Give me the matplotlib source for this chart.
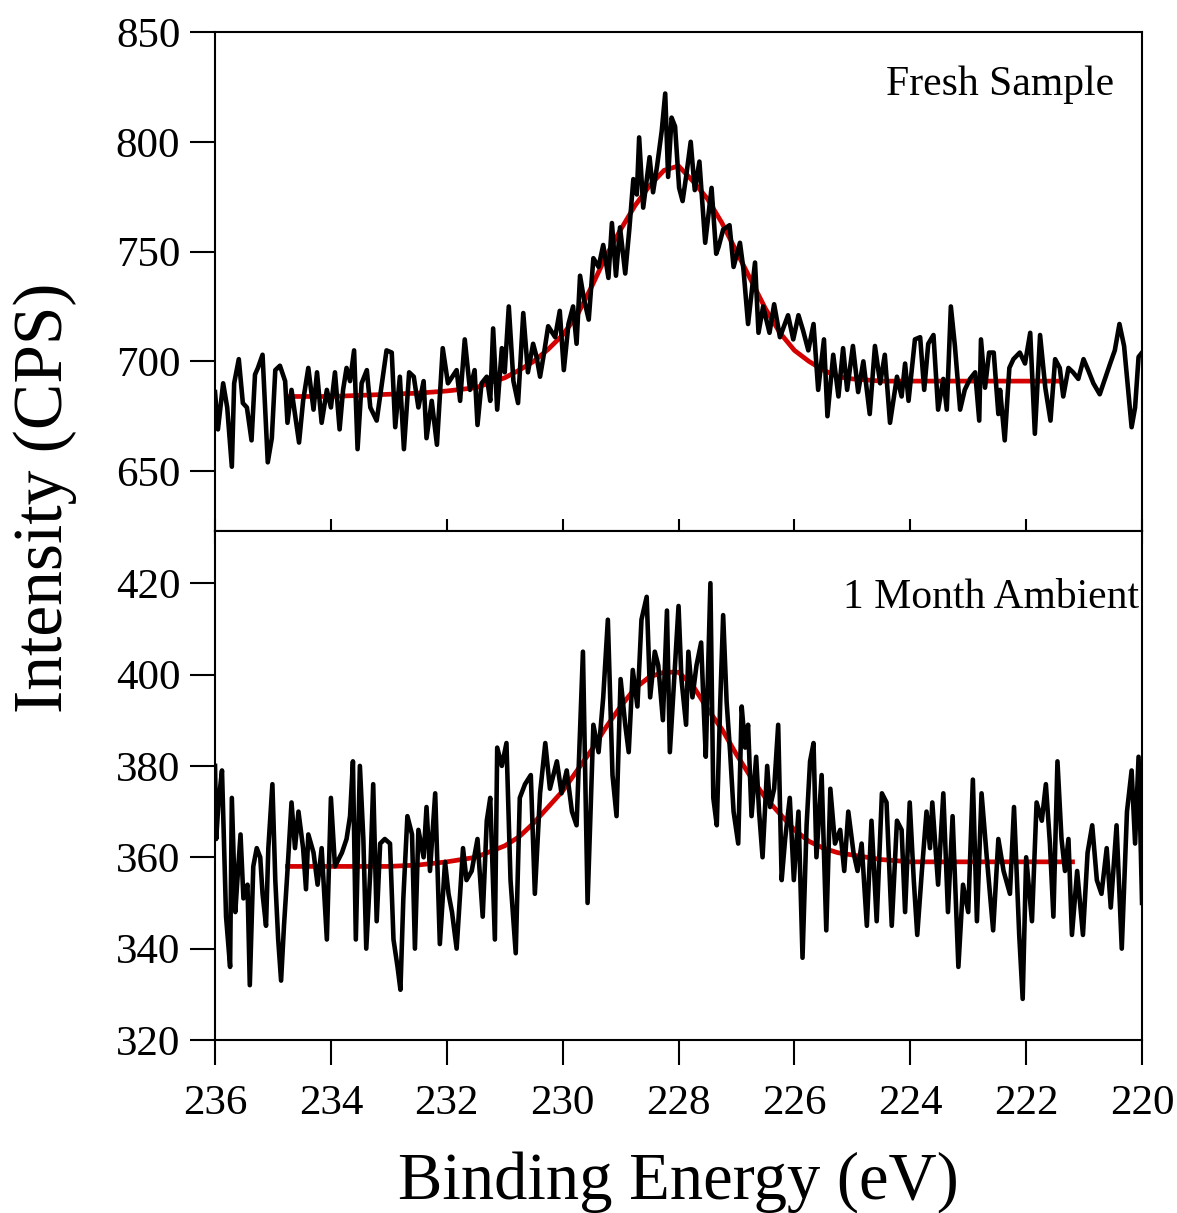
import numpy as np
import matplotlib.pyplot as plt

plt.rcParams['font.family'] = ['Liberation Serif', 'DejaVu Serif']

# Fresh sample spectrum (binding energy in eV, counts per second)
fresh_energy = [236.00, 235.95, 235.86, 235.79, 235.71, 235.67, 235.59, 235.52, 235.45, 235.37,
                235.31, 235.26, 235.18, 235.09, 235.02, 234.96, 234.88, 234.79, 234.75, 234.68,
                234.55, 234.48, 234.39, 234.30, 234.24, 234.16, 234.07, 234.00, 233.93, 233.85,
                233.79, 233.73, 233.67, 233.60, 233.54, 233.47, 233.38, 233.32, 233.21, 233.12,
                233.04, 232.95, 232.89, 232.81, 232.74, 232.65, 232.57, 232.49, 232.40, 232.35,
                232.26, 232.17, 232.07, 231.98, 231.83, 231.77, 231.69, 231.60, 231.52, 231.47,
                231.40, 231.31, 231.25, 231.20, 231.13, 231.05, 231.00, 230.93, 230.85, 230.77,
                230.68, 230.60, 230.51, 230.45, 230.39, 230.32, 230.25, 230.13, 230.05, 229.98,
                229.90, 229.82, 229.76, 229.70, 229.63, 229.55, 229.47, 229.38, 229.30, 229.21,
                229.15, 229.08, 229.01, 228.92, 228.85, 228.78, 228.72, 228.68, 228.61, 228.50,
                228.44, 228.37, 228.29, 228.23, 228.18, 228.12, 228.06, 227.99, 227.93, 227.87,
                227.79, 227.72, 227.64, 227.54, 227.43, 227.35, 227.31, 227.23, 227.12, 227.05,
                226.94, 226.88, 226.80, 226.68, 226.62, 226.54, 226.43, 226.35, 226.25, 226.11,
                226.02, 225.93, 225.85, 225.76, 225.67, 225.59, 225.49, 225.43, 225.33, 225.24,
                225.16, 225.09, 224.99, 224.90, 224.81, 224.70, 224.61, 224.52, 224.44, 224.35,
                224.23, 224.15, 224.09, 224.03, 223.92, 223.83, 223.76, 223.69, 223.60, 223.52,
                223.43, 223.37, 223.30, 223.23, 223.14, 223.06, 222.97, 222.88, 222.81, 222.78,
                222.71, 222.64, 222.56, 222.48, 222.45, 222.37, 222.29, 222.22, 222.11, 222.02,
                221.93, 221.85, 221.76, 221.67, 221.58, 221.50, 221.42, 221.36, 221.27, 221.19,
                221.10, 221.01, 220.93, 220.84, 220.73, 220.64, 220.55, 220.47, 220.39, 220.31,
                220.24, 220.18, 220.12, 220.06, 220.00]
fresh_counts = [686, 669, 690, 679, 652, 690, 701, 681, 679, 664,
                694, 697, 703, 654, 665, 696, 698, 691, 672, 687,
                663, 682, 697, 678, 695, 672, 687, 679, 695, 669,
                687, 697, 691, 705, 660, 690, 696, 679, 673, 690,
                705, 704, 670, 693, 660, 695, 693, 679, 691, 665,
                682, 662, 706, 690, 696, 682, 710, 687, 696, 671,
                690, 693, 682, 715, 678, 706, 695, 725, 691, 681,
                722, 695, 708, 702, 693, 704, 716, 711, 723, 696,
                717, 725, 708, 739, 728, 719, 747, 743, 753, 738,
                763, 739, 761, 740, 760, 783, 776, 802, 770, 793,
                777, 789, 805, 822, 784, 811, 807, 779, 773, 784,
                800, 778, 791, 754, 779, 749, 752, 760, 762, 743,
                754, 742, 717, 745, 713, 725, 713, 726, 711, 721,
                710, 721, 714, 705, 717, 687, 710, 675, 703, 684,
                706, 687, 707, 686, 700, 676, 707, 690, 703, 672,
                693, 684, 699, 682, 710, 711, 687, 708, 712, 678,
                692, 678, 725, 707, 678, 687, 692, 695, 673, 710,
                688, 704, 704, 676, 687, 664, 697, 701, 704, 699,
                713, 667, 712, 688, 673, 701, 697, 684, 697, 695,
                692, 701, 696, 690, 685, 692, 699, 705, 717, 707,
                687, 670, 679, 702, 704]

fresh_fit_energy = [234.75, 234.5, 234.0, 233.5, 233.0, 232.5, 232.0, 231.5, 231.0, 230.75,
                    230.5, 230.25, 230.0, 229.75, 229.5, 229.25, 229.0, 228.75, 228.5, 228.25,
                    228.0, 227.75, 227.5, 227.25, 227.0, 226.75, 226.5, 226.25, 226.0, 225.75,
                    225.5, 225.25, 225.0, 224.5, 224.0, 223.0, 222.0, 221.4]
fresh_fit = [684, 684, 684, 684.5, 685, 685.5, 686.5, 688, 692.5, 696,
             700, 705.5, 712, 721, 734, 748, 760, 771, 780, 787,
             789, 782, 774, 763, 750, 737, 724, 713, 705, 700,
             696, 693, 692, 691, 691, 691, 691, 691]

# Sample after 1 month in ambient air
aged_energy = [236.00, 235.98, 235.94, 235.88, 235.81, 235.74, 235.71, 235.65, 235.62, 235.56,
               235.51, 235.44, 235.40, 235.34, 235.28, 235.22, 235.18, 235.12, 235.08, 235.01,
               234.96, 234.91, 234.86, 234.81, 234.75, 234.68, 234.62, 234.56, 234.48, 234.43,
               234.39, 234.30, 234.23, 234.16, 234.07, 234.00, 233.93, 233.81, 233.73, 233.67,
               233.62, 233.57, 233.50, 233.44, 233.39, 233.32, 233.27, 233.21, 233.15, 233.07,
               232.98, 232.92, 232.85, 232.80, 232.75, 232.68, 232.60, 232.55, 232.49, 232.40,
               232.35, 232.29, 232.20, 232.12, 232.03, 231.97, 231.91, 231.83, 231.72, 231.66,
               231.57, 231.47, 231.38, 231.31, 231.25, 231.17, 231.13, 231.05, 230.97, 230.90,
               230.81, 230.74, 230.65, 230.55, 230.48, 230.39, 230.30, 230.22, 230.10, 230.02,
               229.93, 229.84, 229.76, 229.65, 229.57, 229.47, 229.38, 229.30, 229.22, 229.14,
               229.07, 229.00, 228.92, 228.86, 228.79, 228.71, 228.64, 228.55, 228.49, 228.41,
               228.35, 228.27, 228.20, 228.15, 228.08, 228.00, 227.95, 227.87, 227.83, 227.76,
               227.69, 227.61, 227.57, 227.53, 227.45, 227.40, 227.34, 227.28, 227.23, 227.17,
               227.11, 227.05, 226.97, 226.91, 226.85, 226.80, 226.74, 226.66, 226.61, 226.55,
               226.47, 226.42, 226.35, 226.28, 226.22, 226.16, 226.08, 226.01, 225.93, 225.86,
               225.79, 225.73, 225.67, 225.62, 225.53, 225.45, 225.38, 225.30, 225.21, 225.14,
               225.07, 224.98, 224.91, 224.84, 224.75, 224.67, 224.58, 224.49, 224.41, 224.32,
               224.23, 224.15, 224.09, 224.01, 223.94, 223.88, 223.80, 223.72, 223.66, 223.62,
               223.52, 223.43, 223.35, 223.27, 223.17, 223.09, 223.00, 222.92, 222.85, 222.77,
               222.68, 222.57, 222.48, 222.39, 222.28, 222.21, 222.12, 222.06, 222.00, 221.90,
               221.82, 221.73, 221.66, 221.59, 221.53, 221.46, 221.39, 221.33, 221.27, 221.21,
               221.12, 221.02, 220.94, 220.86, 220.78, 220.70, 220.61, 220.54, 220.44, 220.35,
               220.26, 220.18, 220.12, 220.06, 220.00]
aged_counts = [380, 364, 372, 379, 347, 336, 373, 348, 354, 365,
               351, 354, 332, 358, 362, 360, 352, 345, 362, 376,
               355, 342, 333, 345, 357, 372, 362, 370, 362, 353,
               365, 361, 354, 362, 342, 373, 358, 361, 364, 369,
               381, 342, 380, 364, 340, 357, 376, 346, 363, 364,
               363, 342, 336, 331, 351, 369, 365, 340, 366, 360,
               371, 357, 374, 341, 359, 352, 348, 340, 362, 355,
               357, 364, 347, 368, 373, 342, 384, 380, 385, 355,
               339, 373, 376, 378, 352, 374, 385, 375, 381, 374,
               379, 370, 367, 405, 350, 389, 383, 395, 412, 378,
               369, 399, 389, 383, 401, 393, 412, 417, 395, 405,
               402, 390, 414, 383, 398, 415, 399, 389, 405, 395,
               402, 407, 394, 382, 420, 373, 367, 394, 413, 394,
               383, 370, 363, 393, 384, 389, 369, 382, 370, 360,
               380, 371, 375, 389, 355, 364, 373, 355, 370, 338,
               367, 381, 385, 360, 378, 344, 375, 363, 366, 357,
               370, 361, 357, 363, 345, 368, 346, 374, 372, 345,
               368, 366, 348, 372, 355, 343, 357, 370, 362, 372,
               354, 374, 348, 369, 336, 354, 348, 377, 346, 374,
               360, 344, 364, 357, 352, 371, 343, 329, 360, 346,
               372, 368, 376, 363, 347, 381, 364, 357, 364, 343,
               357, 343, 361, 367, 355, 352, 362, 349, 367, 340,
               370, 379, 363, 382, 350]

aged_fit_energy = [234.75, 234.5, 234.0, 233.5, 233.0, 232.5, 232.0, 231.5, 231.0, 230.75,
                   230.5, 230.25, 230.0, 229.75, 229.5, 229.25, 229.0, 228.75, 228.5, 228.25,
                   228.0, 227.75, 227.5, 227.25, 227.0, 226.75, 226.5, 226.25, 226.0, 225.75,
                   225.5, 225.25, 225.0, 224.5, 224.0, 223.0, 222.0, 221.2]
aged_fit = [358, 358, 358, 358, 358, 358.3, 359, 360, 362.5, 364.5,
            367.5, 371, 374.5, 379, 383.5, 388.5, 393, 397, 399.5, 400.5,
            400.5, 397.5, 392.5, 388, 382.5, 377.5, 373, 369.5, 366, 363.5,
            362, 361, 360.5, 359.5, 359, 359, 359, 359]

x_ticks = [236, 234, 232, 230, 228, 226, 224, 222, 220]

fig = plt.figure(figsize=(11.77, 12.13), dpi=100)
ax1 = fig.add_axes([0.1827, 0.5622, 0.7876, 0.4114])
ax2 = fig.add_axes([0.1827, 0.1426, 0.7876, 0.4196])

ax1.plot(fresh_fit_energy, fresh_fit, color='#d40000', lw=3.4, zorder=2)
ax1.plot(fresh_energy, fresh_counts, color='black', lw=3.3, zorder=3)
ax2.plot(aged_fit_energy, aged_fit, color='#d40000', lw=3.4, zorder=2)
ax2.plot(aged_energy, aged_counts, color='black', lw=3.3, zorder=3)

for ax in (ax1, ax2):
    ax.set_xlim(236, 220)
    ax.set_xticks(x_ticks)
    for s in ax.spines.values():
        s.set_linewidth(1.5)
    ax.tick_params(axis='both', width=1.5, length=18, labelsize=31, pad=7)

ax1.set_ylim(622.7, 850)
ax1.set_yticks([650, 700, 750, 800, 850])
ax1.tick_params(axis='x', direction='inout', length=18, labelbottom=False)

ax2.set_ylim(320, 431.4)
ax2.set_yticks([320, 340, 360, 380, 400, 420])
ax2.tick_params(axis='x', pad=14)

ax1.text(0.97, 0.894, 'Fresh Sample', transform=ax1.transAxes, ha='right', va='center', fontsize=30)
ax2.text(0.997, 0.868, '1 Month Ambient', transform=ax2.transAxes, ha='right', va='center', fontsize=30)

ax2.set_xlabel('Binding Energy (eV)', fontsize=48, labelpad=20)
fig.text(0.038, 0.59, 'Intensity (CPS)', rotation=90, ha='center', va='center', fontsize=50)

plt.savefig('out.png', dpi=100)
